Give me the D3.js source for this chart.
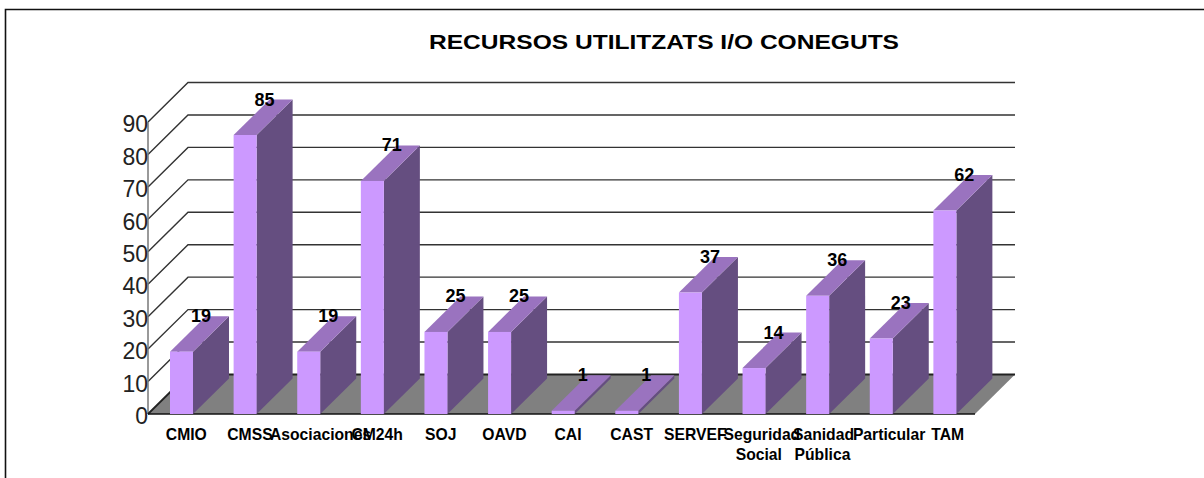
<!DOCTYPE html>
<html><head><meta charset="utf-8">
<script src="https://cdn.jsdelivr.net/npm/d3@7/dist/d3.min.js"></script>
<style>html,body{margin:0;padding:0;background:#fff}svg{display:block}text{font-family:"Liberation Sans",Arial,sans-serif}</style>
</head><body><svg id="c" width="1204" height="478"></svg>
<script>
const categories = ["CMIO","CMSS","Asociaciones","CM24h","SOJ","OAVD","CAI","CAST","SERVEF","Seguridad Social","Sanidad Pública","Particular","TAM"];
const values = [19,85,19,71,25,25,1,1,37,14,36,23,62];
const yTicks = [0,10,20,30,40,50,60,70,80,90];
const title = "RECURSOS UTILITZATS I/O CONEGUTS";

const svg = d3.select("#c");
const left = 148, right = 975, floorY = 414, depthX = 40, depthY = 39.5;
const barDX = 36, barDY = 35.5;
const x = d3.scaleBand().domain(categories).range([left, right]);
const y = d3.scaleLinear().domain([0, 90]).range([floorY, 122]);
const yBar = d3.scaleLinear().domain([0, 85]).range([floorY, 135]);
const barW = 23, barOff = 22;

// frame
svg.append("path").attr("d","M5.5,478V9.5H1204").attr("fill","none").attr("stroke","#111").attr("stroke-width",1.6);

// title
svg.append("text").attr("x",664).attr("y",49).attr("text-anchor","middle")
  .attr("font-size",21).attr("font-weight","bold").attr("textLength",470).attr("lengthAdjust","spacingAndGlyphs").text(title);

// walls
const grid = svg.append("g").attr("fill","none");
grid.selectAll("path.g").data(yTicks.filter(d=>d>0)).join("path").attr("class","g")
  .attr("d",d=>`M${left},${y(d)}L${left+depthX},${y(d)-depthY}H${right+depthX}`)
  .attr("stroke","#333").attr("stroke-width",1.4);
svg.append("line").attr("x1",left).attr("x2",left).attr("y1",y(90)).attr("y2",floorY).attr("stroke","#777").attr("stroke-width",1.5);

// floor
svg.append("path").attr("d",`M${left},${floorY}L${left+depthX},${floorY-depthY}H${right+depthX}L${right},${floorY}Z`).attr("fill","#808080");
svg.append("path").attr("d",`M${left},${floorY}L${left+depthX},${floorY-depthY}H${right+depthX}`).attr("fill","none").attr("stroke","#222").attr("stroke-width",1.8);
svg.append("line").attr("x1",left).attr("x2",right).attr("y1",floorY).attr("y2",floorY).attr("stroke","#111").attr("stroke-width",1.5);

// bars
const rows = categories.map((c,i)=>({c,v:values[i]}));
const bars = svg.append("g").selectAll("g").data(rows).join("g");
const bx = d => x(d.c)+barOff;
bars.append("path").attr("fill","#654E80").attr("d",d=>`M${bx(d)+barW},${floorY}V${yBar(d.v)}l${barDX},${-barDY}V${floorY-barDY}Z`);
bars.append("path").attr("fill","#9A73BF").attr("d",d=>`M${bx(d)},${yBar(d.v)}h${barW}l${barDX},${-barDY}h${-barW}Z`);
bars.append("rect").attr("fill","#CC99FF").attr("x",bx).attr("width",barW).attr("y",d=>yBar(d.v)).attr("height",d=>floorY-yBar(d.v));
bars.append("text").attr("x",d=>bx(d)+31).attr("y",d=>yBar(d.v)-29.5).attr("text-anchor","middle")
  .attr("font-size",18).attr("font-weight","bold").attr("fill","#000").text(d=>d.v);

// y axis
const ya = svg.append("g").attr("transform",`translate(${left},0)`).call(d3.axisLeft(y).tickValues(yTicks).tickSize(0).tickPadding(0));
ya.select(".domain").remove();
ya.selectAll("text").attr("font-size",23).attr("font-family",'"Liberation Sans",Arial,sans-serif').attr("fill","#222").attr("dy","0.42em");

// x axis
const nudge = {"Asociaciones":7,"Seguridad Social":3,"Particular":3,"Sanidad Pública":1,"TAM":-2};
const xa = svg.append("g").attr("transform",`translate(0,${floorY})`).call(d3.axisBottom(x).tickSize(0).tickPadding(0));
xa.select(".domain").remove();
xa.selectAll("text").each(function(d){
  const t = d3.select(this).text(null).attr("font-size",15.7).attr("font-weight","bold").attr("font-family",'"Liberation Sans",Arial,sans-serif').attr("fill","#000").attr("y",0).attr("dy",null);
  const parts = d.split(" ");
  parts.forEach((p,i)=>t.append("tspan").attr("x",6.5+(i==0?(nudge[d]||0):0)).attr("y",25.5+i*20).text(p));
});
</script></body></html>
